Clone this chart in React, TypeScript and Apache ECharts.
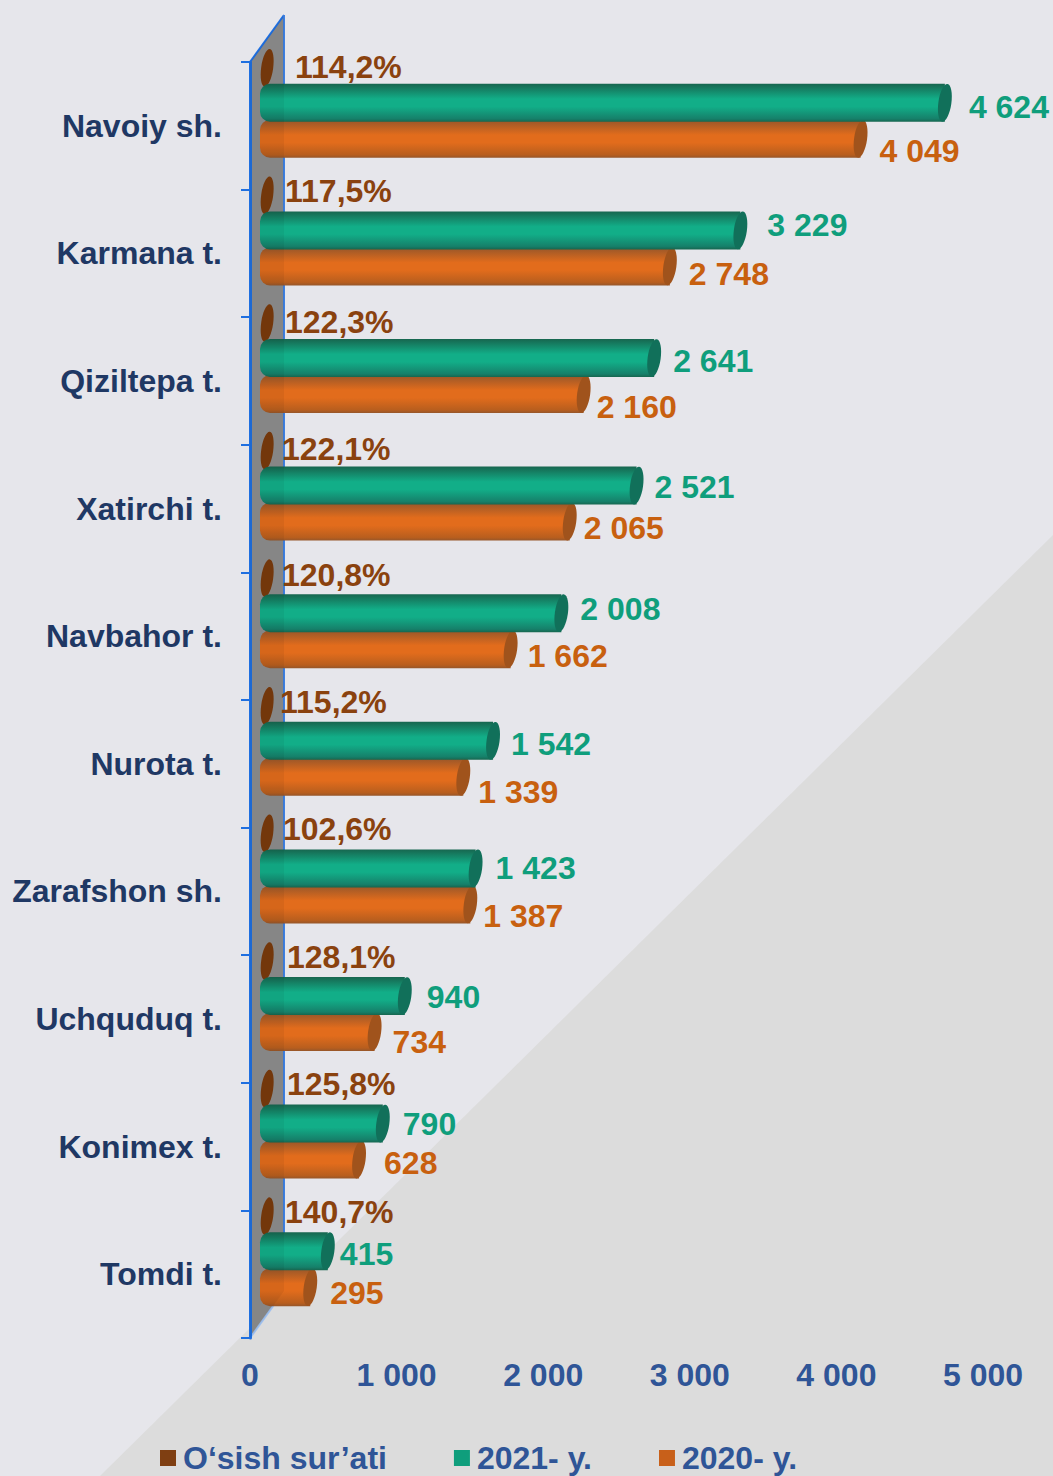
import React, { useEffect, useRef } from "react";
import * as echarts from "echarts";

const categories = ["Navoiy sh.", "Karmana t.", "Qiziltepa t.", "Xatirchi t.", "Navbahor t.", "Nurota t.", "Zarafshon sh.", "Uchquduq t.", "Konimex t.", "Tomdi t."];
const growth = [114.2, 117.5, 122.3, 122.1, 120.8, 115.2, 102.6, 128.1, 125.8, 140.7];
const y2021 = [4624, 3229, 2641, 2521, 2008, 1542, 1423, 940, 790, 415];
const y2020 = [4049, 2748, 2160, 2065, 1662, 1339, 1387, 734, 628, 295];
const xTicks = { min: 0, max: 5000, interval: 1000 };
const names = ["O‘sish sur’ati", "2021- y.", "2020- y."];

// label nudges, hand-placed in the source picture (px from the end of each bar)
const growthLabelX = [295, 285, 285, 282, 282, 280, 283, 287, 287, 285];
const growthLabelDy = [-59, -62, -59.5, -60, -61.5, -62, -62.5, -62, -63, -62.6];
const greenDx = [17, 20, 12, 11, 12, 11, 13, 15, 13, 5];
const greenDy = [4, -5, 2.5, 1, -4.5, 3.5, 0, 1, 0, 2.4];
const orangeDx = [12, 12, 6, 7, 10, 8, 6, 11, 18, 13];
const orangeDy = [12, 8, 12.5, 6, 6.5, 15, 12, 10, 3, 5.4];

const FONT = '"Liberation Sans", Arial, sans-serif';
const font32 = `bold 32px ${FONT}`;
const space = (v: number) => String(v).replace(/\B(?=(\d{3})+$)/g, " ");
const grad = (edge: string, mid: string, edge2: string) =>
  new echarts.graphic.LinearGradient(0, 0, 0, 1, [
    { offset: 0, color: edge },
    { offset: 0.4, color: mid },
    { offset: 0.6, color: mid },
    { offset: 0.92, color: edge2 },
    { offset: 1, color: edge },
  ]);

const BAR_H = 38;
const DEPTH_X = 10;

function cylinder(fill: any, capColor: string, labelColor: string, offY: number, dxs: number[], dys: number[]) {
  return (params: any, api: any) => {
    const v = api.value(0);
    const i = api.value(1);
    const p = api.coord([v, i]);
    const x0 = api.coord([0, i])[0] + DEPTH_X;
    const xEnd = p[0] + DEPTH_X;
    const cy = p[1] + offY;
    return {
      type: "group",
      children: [
        { type: "rect", shape: { x: x0, y: cy - BAR_H / 2, width: xEnd + 7 - x0, height: BAR_H, r: [10, 0, 0, 10] }, style: { fill } },
        { type: "ellipse", x: xEnd + 7, y: cy, rotation: -0.14, shape: { cx: 0, cy: 0, rx: 6.5, ry: BAR_H / 2 }, style: { fill: capColor } },
        {
          type: "text",
          x: xEnd + 14 + dxs[i],
          y: cy + dys[i],
          style: { text: space(v), fill: labelColor, font: font32, textAlign: "left", textVerticalAlign: "middle" },
        },
      ],
    };
  };
}

function growthItem(params: any, api: any) {
  const i = api.value(1);
  const p = api.coord([api.value(0) / 100, i]);
  const cy = p[1] - 58;
  return {
    type: "group",
    children: [
      { type: "ellipse", x: p[0] + DEPTH_X + 7, y: cy, rotation: -0.14, shape: { cx: 0, cy: 0, rx: 6, ry: 19 }, style: { fill: "#7A3A0C" } },
      {
        type: "text",
        x: growthLabelX[i],
        y: p[1] + growthLabelDy[i],
        style: { text: growth[i].toFixed(1).replace(".", ",") + "%", fill: "#8A420F", font: font32, textAlign: "left", textVerticalAlign: "middle" },
      },
    ],
  };
}

export default function App() {
  const ref = useRef<HTMLDivElement>(null);
  useEffect(() => {
    document.body.style.margin = "0";
    document.body.style.overflow = "hidden";
    const chart = echarts.init(ref.current!, null, { renderer: "svg" });
    chart.setOption({
      animation: false,
      backgroundColor: "#E6E6EB",
      grid: { left: 250, top: 62, width: 733, height: 1276, containLabel: false },
      xAxis: {
        type: "value",
        ...xTicks,
        axisLine: { show: false },
        axisTick: { show: false },
        splitLine: { show: false },
        axisLabel: { margin: 21, color: "#2F5597", fontSize: 32, fontWeight: "bold", fontFamily: FONT, formatter: (v: number) => space(v) },
      },
      yAxis: {
        type: "category",
        inverse: true,
        data: categories,
        axisLine: { show: true, lineStyle: { color: "#1F6FE0", width: 3 } },
        axisTick: { show: true, length: 9, lineStyle: { color: "#1F6FE0", width: 2 } },
        axisLabel: { margin: 28, padding: [4, 0, 0, 0], color: "#1F3864", fontSize: 32, fontWeight: "bold", fontFamily: FONT },
      },
      legend: {
        left: 155,
        top: 1437,
        itemGap: 67,
        itemWidth: 16,
        itemHeight: 16,
        icon: "rect",
        data: names,
        selectedMode: false,
        textStyle: { color: "#2F5597", fontSize: 32, fontWeight: "bold", fontFamily: FONT, padding: [0, 0, 0, 2] },
      },
      graphic: [
        { type: "polygon", z: -10, shape: { points: [[1053, 535], [1053, 1476], [100, 1476]] }, style: { fill: "#DCDCDC" } },
        { type: "polygon", z: -5, shape: { points: [[250, 62], [284, 15], [284, 1291], [250, 1338]] }, style: { fill: "#8E8E8E" } },
        { type: "line", z: -4, shape: { x1: 250, y1: 62, x2: 284, y2: 15 }, style: { stroke: "#1F6FE0", lineWidth: 2 } },
        { type: "line", z: -4, shape: { x1: 284, y1: 15, x2: 284, y2: 1291 }, style: { stroke: "#3F80E0", lineWidth: 2 } },
        { type: "line", z: -4, shape: { x1: 250, y1: 1338, x2: 284, y2: 1291 }, style: { stroke: "#9FC0EE", lineWidth: 2 } },
        { type: "polygon", z: 50, silent: true, shape: { points: [[250, 62], [284, 15], [284, 1291], [250, 1338]] }, style: { fill: "rgba(0,0,0,0.05)" } },
      ],
      series: [
        {
          type: "custom",
          name: names[0],
          z: 3,
          clip: false,
          itemStyle: { color: "#7F3F12" },
          encode: { x: 0, y: 1 },
          data: growth.map((v, i) => [v, i]),
          renderItem: growthItem,
        },
        {
          type: "custom",
          name: names[2],
          z: 4,
          clip: false,
          itemStyle: { color: "#C8601A" },
          encode: { x: 0, y: 1 },
          data: y2020.map((v, i) => [v, i]),
          renderItem: cylinder(grad("#96562A", "#E26C1C", "#B85E1E"), "#A0531C", "#C8600F", 13, orangeDx, orangeDy),
        },
        {
          type: "custom",
          name: names[1],
          z: 5,
          clip: false,
          itemStyle: { color: "#0F9E7C" },
          encode: { x: 0, y: 1 },
          data: y2021.map((v, i) => [v, i]),
          renderItem: cylinder(grad("#17664F", "#12AE88", "#16806A"), "#11705A", "#0F9E7C", -23, greenDx, greenDy),
        },
      ],
    });
    return () => chart.dispose();
  }, []);
  return <div ref={ref} style={{ position: "absolute", left: 0, top: 0, width: 1053, height: 1476 }} />;
}
